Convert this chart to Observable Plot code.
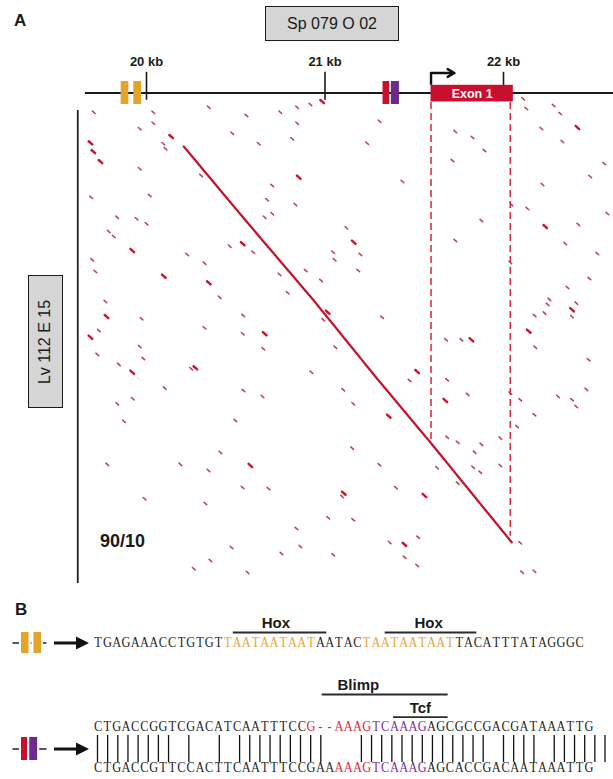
<!DOCTYPE html>
<html><head><meta charset="utf-8">
<script src="https://cdn.jsdelivr.net/npm/d3@7"></script>
<script src="https://cdn.jsdelivr.net/npm/@observablehq/plot@0.6"></script>
<style>
html,body{margin:0;padding:0;background:#fff;}
#fig{position:relative;width:613px;height:779px;overflow:hidden;font-family:"Liberation Sans",Arial,sans-serif;color:#1a1a1a;}
.lbl{position:absolute;font-weight:bold;line-height:1;white-space:nowrap;}
.box{position:absolute;background:#d5d5d5;border:1.6px solid #1a1a1a;box-sizing:border-box;display:flex;align-items:center;justify-content:center;font-size:16px;color:#1a1a1a;}
</style></head><body><div id="fig"></div>
<script>
// ---------------- data ----------------
// Sp 079 O 02 coordinates (bp)
const spTicks = [20000, 21000, 22000];
const genome = [{start: 19658, end: 22700}];
const elements = [
  {name: "Hox site 1", start: 19858, end: 19901, group: "hox"},
  {name: "Hox site 2", start: 19929, end: 19972, group: "hox"},
  {name: "Blimp site", start: 21325, end: 21362, group: "blimp"},
  {name: "Tcf site", start: 21372, end: 21417, group: "tcf"}
];
const exons = [{label: "Exon 1", start: 21594, end: 22055, tss: 21594, tssTip: 21725}];
// exon boundaries projected on Lv 112 E 15 (bp)
const exonOnLv = [{sp: 21594, lv: 1858}, {sp: 22038, lv: 2385}];
const lvAxisAt = 19615;
// main diagonal (sp bp, lv bp)
const diagonal = [[20209,202],[20564,626],[20937,1064],[21292,1502],[21590,1858],[21908,2249],[22046,2418]];
// scattered 90/10 hits: [sp bp, lv bp, strong]
const hits = [
 [19705,10,0],[20038,10,0],[20349,-18,0],[20560,28,0],[20750,10,0],[20844,-18,0],[20918,-34,0],[20984,-50,1],
 [20038,71,0],[19962,102,0],[20844,71,0],[20480,127,0],[20138,146,1],[20816,158,0],[19686,181,1],[20094,186,0],
 [20106,214,0],[20629,186,0],[21236,183,0],[19702,230,1],[19742,286,1],[19962,326,0],[20306,364,0],[20853,374,1],
 [20704,420,0],[21305,60,0],[19690,486,0],[20018,476,0],[20676,500,0],[20834,526,0],[19836,598,0],[19944,606,0],
 [20000,634,0],[20662,598,0],[20704,578,0],[21120,657,0],[19789,678,0],[19817,706,0],[21161,738,1],[19920,784,1],
 [20466,760,0],[20539,746,1],[20598,794,0],[21198,806,0],[21046,794,0],[21054,836,0],[19696,836,0],[19714,902,0],
 [20228,806,0],[20325,855,0],[20745,918,0],[20892,896,0],[21186,896,0],[20097,928,1],[20349,965,1],[20978,952,0],
 [20791,1021,0],[20410,1046,0],[19770,1070,0],[21015,1130,1],[19776,1154,1],[19972,1166,0],[20542,1148,0],[20990,1172,0],
 [19733,1232,0],[20325,1217,0],[20539,1250,0],[20662,1250,1],[19686,1270,1],[19962,1322,0],[20654,1334,0],[21058,1326,0],
 [21320,1158,0],[22247,1086,0],[22408,1079,0],[22174,1148,0],[22230,1135,0],[22384,1116,1],[22384,1154,0],[22141,1236,1],
 [21678,1284,0],[21764,1284,0],[21820,1284,1],[22178,1326,0],[22477,1396,0],[20924,1466,0],[21516,1462,1],[21474,1512,0],
 [21684,1508,0],[21102,1564,0],[21799,1590,0],[22038,1583,0],[22094,1620,0],[22306,1602,0],[22384,1620,0],[22464,1562,0],
 [22408,1658,0],[21158,1642,0],[21674,1624,1],[21357,1712,1],[22173,1704,0],[22076,1770,0],[21684,1830,0],[21743,1858,0],
 [21876,1870,0],[21982,1835,0],[21152,1891,0],[21838,1914,0],[21305,1984,0],[21628,2001,0],[21830,1998,0],[21870,2026,0],
 [21982,1988,0],[21743,2087,0],[21398,2113,0],[21557,2156,1],[21105,2143,1],[21096,2162,0],[21018,2281,0],[21158,2292,0],
 [21522,2390,0],[21362,2419,0],[21445,2430,1],[22094,2421,0],[21446,2502,0],[21046,2488,0],[21516,2548,0],[22104,2586,0],
 [22173,2580,0],
 [19724,1366,0],[19982,1389,0],[19845,1422,0],[19920,1466,1],[20274,1441,1],[20250,1446,0],[20102,1555,0],[19836,1642,0],
 [19923,1614,0],[19873,1740,0],[19780,1982,0],[20190,1982,0],[19989,2174,0],[20265,2566,0],
 [22110,-66,0],[22281,-28,0],
 [22128,-11,0],[22318,17,0],[22414,95,1],[22212,101,0],[21730,118,0],[21826,151,0],[21714,280,0],[21893,224,0],
 [22565,297,0],[22486,370,0],[22330,174,0],[22582,577,0],[22218,414,0],[22044,526,0],[22134,549,0],[22234,650,1],
 [21876,616,0],[22419,638,0],[21730,728,0],[22346,745,0],[22038,851,0],[22526,801,0],[22481,941,0],[22358,991,0],
 [22257,1058,0],[21434,398,0],
 [20543,1568,0],[20650,1602,0],[20498,1736,0],[20414,1915,0],[20347,2016,0],[20582,1988,1],[20538,2111,0],[20683,2117,0],
 [20330,2201,0],[20840,2341,0],[20476,2447,0],[20756,2481,0],[20862,2442,0],[20358,2520,0],[20566,2587,0]
];
// panel B sequences
const hoxSeq = "TGAGAAACCTGTGTTAATAATAATAATACTAATAATAATTACATTTATAGGGC";
const hoxSpans = [{from: 14, to: 23, motif: "hox"}, {from: 29, to: 38, motif: "hox"}];
const hoxMotifs = [
  {name: "Hox", start: 15.1, end: 25.2, labelAt: 19.7, level: 1},
  {name: "Hox", start: 31.5, end: 41.4, labelAt: 36.2, level: 1}
];
const spSeq = "CTGACCGGTCGACATCAATTTCCG--AAAGTCAAAGAGCGCCGACGATAAATTG";
const lvSeq = "CTGACCGTTCCACTTCAATTTCCGAAAAAGTCAAAGAGCACCGACAATAAATTG";
const spSpans = [{from: 23, to: 29, motif: "blimp"}, {from: 30, to: 35, motif: "tcf"}];
const lvSpans = [{from: 26, to: 29, motif: "blimp"}, {from: 30, to: 35, motif: "tcf"}];
const tcfMotifs = [
  {name: "Blimp", start: 24.7, end: 38.3, labelAt: 28.6, level: 2},
  {name: "Tcf", start: 32.4, end: 38.3, labelAt: 35.3, level: 1}
];
const matchLine = "|||||||| |  | |||||||||   ||||||||||||| |||| |||||||||";

// ---------------- styles ----------------
const boxColors = {hox: "#e1a52c", blimp: "#c8102e", tcf: "#6b2a8e", exon: "#c8102e"};
const textColors = {hox: "#e6a531", blimp: "#e0283c", tcf: "#7b2f9c", plain: "#1f1f1f"};
const svgStyle = {fontFamily: "Liberation Sans, Arial, sans-serif", overflow: "visible", background: "transparent"};
const xSp = {domain: [20000, 22000], range: [146, 503]};

const fig = document.getElementById("fig");
function place(node, left, top) {
  node.style.position = "absolute"; node.style.left = left + "px"; node.style.top = top + "px";
  fig.appendChild(node); return node;
}
function html(cls, text, css) {
  const d = document.createElement("div"); d.className = cls; d.textContent = text;
  Object.assign(d.style, css); fig.appendChild(d); return d;
}

// ---------------- panel A: dot plot ----------------
const dashSymbol = {draw(ctx, size) { const r = Math.sqrt(size) / 2; ctx.moveTo(-r, -r * 0.9); ctx.lineTo(r, r * 0.9); }};
const dotplot = Plot.plot({
  width: 613, height: 491, marginTop: 16, marginBottom: 2, marginLeft: 0, marginRight: 0,
  style: svgStyle,
  x: {...xSp, axis: null},
  y: {domain: [0, 2649], reverse: true, axis: null},
  marks: [
    Plot.ruleX([lvAxisAt], {stroke: "#222", strokeWidth: 1.8}),
    Plot.ruleX(exonOnLv, {x: "sp", y2: "lv", insetTop: -8, stroke: "#d8263c", strokeWidth: 1.5, strokeDasharray: "7 4"}),
    Plot.dot(hits.filter(d => !d[2]), {x: d => d[0], y: d => d[1], symbol: dashSymbol, r: 1.5, fill: "none", stroke: "#b9455f", strokeWidth: 1.6, strokeLinecap: "round"}),
    Plot.dot(hits.filter(d => d[2]), {x: d => d[0], y: d => d[1], symbol: dashSymbol, r: 2, fill: "none", stroke: "#d0142f", strokeWidth: 2.5, strokeLinecap: "round"}),
    Plot.line(diagonal, {x: d => d[0], y: d => d[1], stroke: "#c4132f", strokeWidth: 2.3, strokeDasharray: "3 0.9"})
  ]
});
place(dotplot, 0, 94);

// ---------------- panel A: genomic map ----------------
const header = Plot.plot({
  width: 613, height: 58, margin: 0,
  style: svgStyle,
  color: {type: "identity"},
  x: {...xSp, axis: null},
  y: {domain: [-1, 1], range: [54, 31], axis: null},
  marks: [
    Plot.ruleY(genome, {x1: "start", x2: "end", y: 0, stroke: "#1a1a1a", strokeWidth: 2}),
    Plot.ruleX(spTicks, {x: d => d, y1: -0.63, y2: 1.8, stroke: "#1a1a1a", strokeWidth: 1.6}),
    Plot.text(spTicks, {x: d => d, y: 2.35, text: d => `${d / 1000} kb`, lineAnchor: "bottom", fontWeight: "bold", fontSize: 13, fill: "#1a1a1a"}),
    Plot.rect(elements, {x1: "start", x2: "end", y1: -1, y2: 1, fill: d => boxColors[d.group]}),
    Plot.rect(exons, {x1: "start", x2: "end", y1: -0.78, y2: 0.67, fill: boxColors.exon}),
    Plot.ruleX(exons, {x: "tss", y1: 0.67, y2: 1.74, stroke: "#111", strokeWidth: 2.4}),
    Plot.arrow(exons, {x1: "tss", x2: "tssTip", y1: 1.74, y2: 1.74, stroke: "#111", strokeWidth: 2.4, headLength: 9}),
    Plot.text(exons, {x: d => (d.start + d.end) / 2, y: -0.05, text: "label", fill: "white", fontWeight: "bold", fontSize: 12.5})
  ]
});
place(header, 0, 50);

html("lbl", "A", {left: "14px", top: "12px", fontSize: "17px"});
html("box", "Sp 079 O 02", {left: "265px", top: "6px", width: "134px", height: "35px"});
const lv = html("box", "", {left: "28px", top: "275px", width: "35px", height: "133px"});
const lvSpan = document.createElement("span"); lvSpan.textContent = "Lv 112 E 15";
Object.assign(lvSpan.style, {display: "inline-block", transform: "rotate(-90deg)", whiteSpace: "nowrap"});
lv.appendChild(lvSpan);
html("lbl", "90/10", {left: "100px", top: "532px", fontSize: "18px"});

// ---------------- panel B ----------------
html("lbl", "B", {left: "15px", top: "601px", fontSize: "17px"});

function letters(seq, spans, lane) {
  return Array.from(seq, (c, i) => {
    const s = spans.find(s => i >= s.from && i <= s.to);
    return {c, i, lane, color: s ? textColors[s.motif] : textColors.plain};
  });
}
const seqX = {domain: [0, 54], range: [93, 593]};
function squeeze(svg) {
  d3.select(svg).selectAll("g[font-family='Liberation Serif'] text")
    .attr("transform", function() { return this.getAttribute("transform") + " scale(0.8,1)"; });
  return svg;
}
function motifMarks(motifs) {
  return [
    Plot.ruleY(motifs, {y: "level", x1: "start", x2: "end", stroke: "#2a2a2a", strokeWidth: 1.8}),
    Plot.text(motifs, {x: "labelAt", y: "level", text: "name", dy: -4.5, lineAnchor: "bottom", fontWeight: "bold", fontSize: 15, fill: "#1a1a1a"})
  ];
}
function seqMark(data) {
  return Plot.text(data, {x: d => d.i + 0.5, y: "lane", text: "c", fill: "color", lineAnchor: "bottom", fontFamily: "Liberation Serif", fontSize: 15.5});
}

const row1 = Plot.plot({
  width: 613, height: 44, margin: 0, style: svgStyle, color: {type: "identity"},
  x: {...seqX, axis: null}, y: {domain: [0, 1], range: [42.7, 20], axis: null},
  marks: [...motifMarks(hoxMotifs), seqMark(letters(hoxSeq, hoxSpans, 0.34))]
});
place(squeeze(row1), 0, 612);

const row2 = Plot.plot({
  width: 613, height: 104, margin: 0, style: svgStyle, color: {type: "identity"},
  x: {...seqX, axis: null}, y: {domain: [0, 1], range: [64.4, 41.7], axis: null},
  marks: [...motifMarks(tcfMotifs), seqMark(letters(spSeq, spSpans, 0.414)), seqMark(letters(lvSeq, lvSpans, -1.42))]
});
place(squeeze(row2), 0, 675);

const matchIdx = Array.from(matchLine).map((c, j) => c === "|" ? j : null).filter(j => j !== null);
const matches = Plot.plot({
  width: 613, height: 27, margin: 0, style: svgStyle,
  x: {domain: [0, 1], range: [97, 107.15], axis: null},
  marks: [Plot.ruleX(matchIdx, {x: d => d, stroke: "#111", strokeWidth: 1.3})]
});
place(matches, 0, 735);

// element icons (reuse the map features)
function icon(groups, top, h) {
  const feats = elements.filter(d => groups.includes(d.group));
  const g0 = d3.min(feats, d => d.start);
  return place(Plot.plot({
    width: 52, height: h, marginLeft: 12.5, marginRight: 5.5, marginTop: 0, marginBottom: 0,
    style: svgStyle, color: {type: "identity"},
    x: {domain: [g0, g0 + 114], range: [21, 41], axis: null},
    y: {domain: [-1, 1], range: [h - 4, 4], axis: null},
    marks: [
      Plot.ruleY([0], {stroke: "#222", strokeWidth: 1.6}),
      Plot.rect(feats, {x1: "start", x2: "end", y1: -1, y2: 1, fill: d => boxColors[d.group], stroke: "white", strokeWidth: 4, paintOrder: "stroke"})
    ]
  }), 0, top);
}
icon(["hox"], 628, 29);
icon(["blimp", "tcf"], 733, 31);

function arrow(top) {
  const ns = "http://www.w3.org/2000/svg";
  const s = document.createElementNS(ns, "svg");
  s.setAttribute("width", 36); s.setAttribute("height", 16);
  s.innerHTML = '<line x1="0" y1="8" x2="25" y2="8" stroke="#111" stroke-width="3"/><polygon points="22,1.5 35,8 22,14.5" fill="#111"/>';
  place(s, 54, top);
}
arrow(635);
arrow(741);
</script></body></html>
